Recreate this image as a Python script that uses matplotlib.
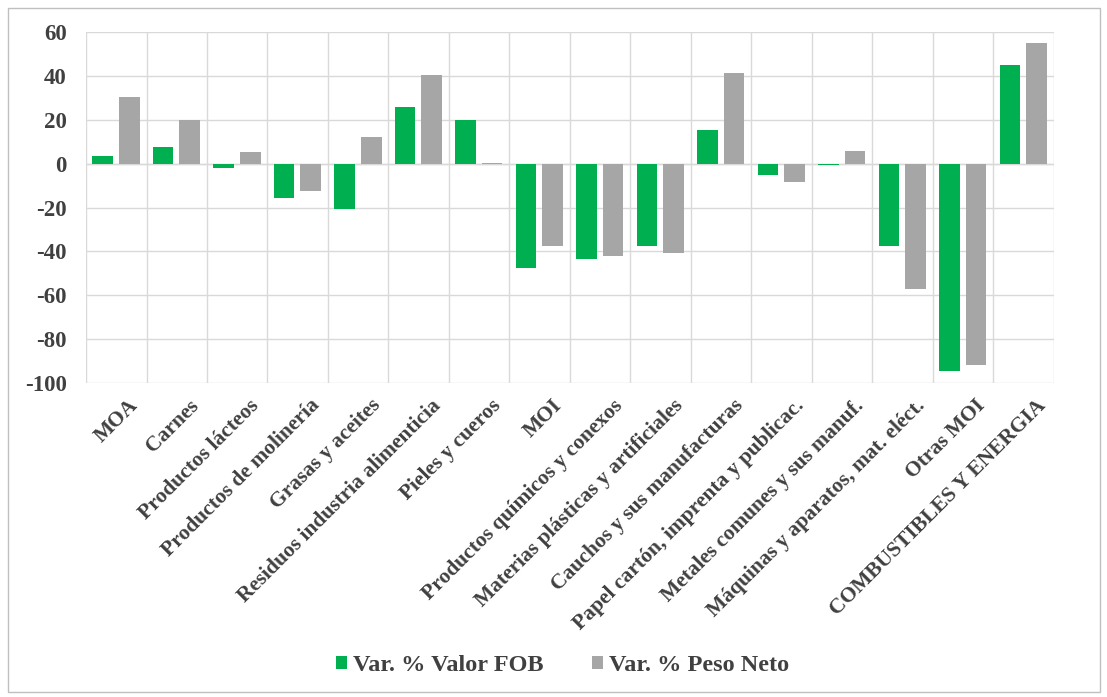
import matplotlib
matplotlib.use("Agg")
import matplotlib.pyplot as plt
from matplotlib.patches import Rectangle
import numpy as np

categories = [
    "MOA", "Carnes", "Productos lácteos", "Productos de molinería",
    "Grasas y aceites", "Residuos industria alimenticia", "Pieles y cueros",
    "MOI", "Productos químicos y conexos", "Materias plásticas y artificiales",
    "Cauchos y sus manufacturas", "Papel cartón, imprenta y publicac.",
    "Metales comunes y sus manuf.", "Máquinas y aparatos, mat. eléct.",
    "Otras MOI", "COMBUSTIBLES Y ENERGIA",
]
valor_fob = [3.6, 7.8, -2, -15.5, -20.7, 26, 19.7, -47.5, -43.5, -37.5,
             15.5, -5, -0.5, -37.5, -94.5, 45]
peso_neto = [30.6, 19.7, 5.5, -12.5, 12, 40.6, 0.5, -37.5, -42.3, -40.6,
             41.4, -8.3, 6, -57, -91.8, 55]
yticks = [60, 40, 20, 0, -20, -40, -60, -80, -100]

green = "#00b050"
gray = "#a6a6a6"
txt = "#404040"
font = "Liberation Serif"

fig = plt.figure(figsize=(11.07, 6.97), dpi=100)
ax = fig.add_axes([0.0777, 0.4505, 0.8743, 0.5035])

x = np.arange(len(categories))
w = 0.34
ax.bar(x - 0.225, valor_fob, w, color=green, label="Var. % Valor FOB", zorder=3)
ax.bar(x + 0.215, peso_neto, w, color=gray, label="Var. % Peso Neto", zorder=3)

ax.set_xlim(-0.5, len(categories) - 0.5)
ax.set_ylim(-100, 60)
ax.set_yticks(yticks)
ax.set_yticklabels([str(v) for v in yticks], fontfamily=font,
                   fontweight="bold", fontsize=16.5, color=txt)
ax.grid(axis="y", color="#d9d9d9", linewidth=1, zorder=0)
for b in np.arange(-0.5, len(categories), 1.0):
    ax.axvline(b, color="#d9d9d9", linewidth=1, zorder=0)
ax.axhline(0, color="#d9d9d9", linewidth=1, zorder=1)

ax.set_xticks(x + 0.2)
ax.set_xticklabels(categories, rotation=45, ha="right", rotation_mode="anchor",
                   fontfamily=font, fontweight="bold", fontsize=15.5, color=txt)
ax.tick_params(axis="both", length=0)
ax.tick_params(axis="x", pad=9)
ax.tick_params(axis="y", pad=14)
for s in ax.spines.values():
    s.set_visible(False)

leg = fig.legend(loc="center", bbox_to_anchor=(0.508, 0.045), ncol=2,
                 frameon=False, handlelength=0.45, handleheight=0.45,
                 handletextpad=0.25, columnspacing=2.0,
                 prop={"family": font, "weight": "bold", "size": 17.5})
for t in leg.get_texts():
    t.set_color(txt)

fig.patches.append(Rectangle((8 / 1107, 5 / 697), 1092 / 1107, 684 / 697,
                             transform=fig.transFigure, fill=False,
                             edgecolor="#bfbfbf", linewidth=1))

fig.savefig("out.png", dpi=100)
